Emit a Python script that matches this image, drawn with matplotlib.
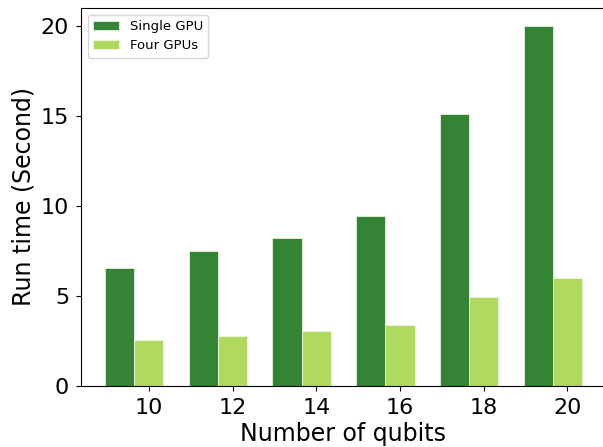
import matplotlib
matplotlib.use("Agg")
import matplotlib.pyplot as plt
import numpy as np

qubits = [10, 12, 14, 16, 18, 20]
single_gpu = [6.58, 7.50, 8.25, 9.43, 15.09, 19.98]
four_gpus = [2.53, 2.78, 3.03, 3.39, 4.97, 6.00]

W, H = 603, 447
fig = plt.figure(figsize=(W/100, H/100), dpi=100)
ax = fig.add_axes([81/W, (H-386)/H, 525/W, 378/H])

x = np.arange(len(qubits))
w = 0.35
ax.bar(x - w, single_gpu, w, color='#358335', edgecolor='#e8f0e0', linewidth=0.6, label='Single GPU')
ax.bar(x, four_gpus, w, color='#b0d95f', edgecolor='#eef6df', linewidth=0.6, label='Four GPUs')

ax.set_xticks(x)
ax.set_xticklabels([str(q) for q in qubits])
ax.set_xlim(-0.81, 5.46)
ax.set_ylim(0, 21)
ax.set_yticks([0, 5, 10, 15, 20])
ax.tick_params(labelsize=16, pad=5)
ax.set_xlabel('Number of qubits', fontsize=17, labelpad=3)
ax.set_ylabel('Run time (Second)', fontsize=17)
ax.legend(loc='upper left', fontsize=9.5)

fig.savefig('out.png', dpi=100)
